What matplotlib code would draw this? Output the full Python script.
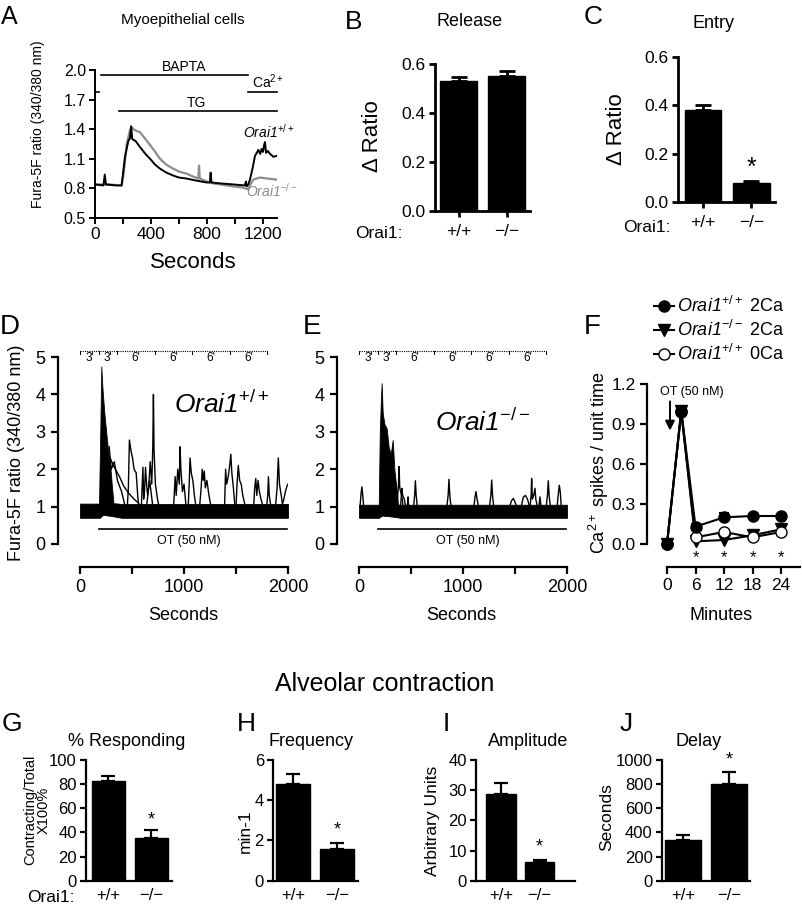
import matplotlib
matplotlib.use('Agg')
import matplotlib.pyplot as plt

plt.rcParams['font.family'] = ['Liberation Sans', 'DejaVu Sans']
plt.rcParams['mathtext.fontset'] = 'custom'
plt.rcParams['mathtext.rm'] = 'Liberation Sans'
plt.rcParams['mathtext.it'] = 'Liberation Sans:italic'
plt.rcParams['mathtext.sf'] = 'Liberation Sans:italic'
plt.rcParams['mathtext.bf'] = 'Liberation Sans:bold'

W, H = 802, 905

# ---- A: myoepithelial cell traces
a_wt_t = [0, 60, 70, 78, 150, 190, 214, 238, 250, 258, 266, 290, 321, 360, 393, 430, 464, 510, 559, 600,
          654, 720, 797, 820, 826, 832, 900, 988, 1070, 1078, 1083, 1095, 1107, 1125, 1143, 1167, 1180, 1190,
          1200, 1208, 1214, 1222, 1235, 1250, 1275, 1297]
a_wt_v = [0.84, 0.83, 0.94, 0.84, 0.83, 0.83, 1.12, 1.28, 1.31, 1.43, 1.30, 1.28, 1.22, 1.15, 1.10, 1.04, 1.00,
          0.96, 0.93, 0.91, 0.90, 0.88, 0.86, 0.86, 0.96, 0.86, 0.85, 0.84, 0.83, 0.87, 0.82, 0.84, 0.89, 1.00,
          1.13, 1.19, 1.15, 1.20, 1.17, 1.24, 1.27, 1.16, 1.18, 1.15, 1.12, 1.13]
a_ko_t = [0, 100, 190, 205, 226, 240, 250, 262, 275, 300, 321, 360, 393, 430, 464, 510, 559, 600, 654, 700,
          738, 743, 748, 800, 845, 900, 988, 1050, 1095, 1110, 1131, 1178, 1230, 1297]
a_ko_v = [0.84, 0.84, 0.83, 0.95, 1.24, 1.33, 1.39, 1.42, 1.40, 1.38, 1.37, 1.30, 1.24, 1.17, 1.10, 1.04, 1.00,
          0.97, 0.95, 0.92, 0.90, 1.03, 0.90, 0.87, 0.85, 0.84, 0.82, 0.81, 0.79, 0.84, 0.89, 0.91, 0.90, 0.89]
bapta = (40, 1090, 1.95)
ca_pre = (0, 30, 1.78)
ca_post = (1090, 1300, 1.78)
tg = (170, 1300, 1.58)

# ---- B, C
genotypes = ['+/+', '\u2212/\u2212']
release = [0.53, 0.553]
release_err = [0.015, 0.018]
entry = [0.38, 0.077]
entry_err = [0.022, 0.008]

# ---- D, E: OT-evoked traces
seg_edges = [0, 180, 360, 720, 1080, 1440, 1800]
seg_labels = ["3'", "3'", "6'", "6'", "6'", "6'"]
ot_span = (180, 1990)

d_band_t = [0, 190, 220, 300, 400, 2000]
d_band_lo = [0.70, 0.70, 0.78, 0.75, 0.70, 0.70]
d_band_hi = [1.08, 1.08, 1.12, 1.10, 1.07, 1.07]
d_burst_t = [183, 195, 205, 215, 234, 256, 272, 288, 305, 320]
d_burst_v = [1.1, 3.0, 4.75, 4.2, 3.5, 2.87, 2.43, 2.2, 1.6, 1.15]
d_tr_t = [[290, 320, 350, 380, 420, 470, 520, 560, 580],
          [280, 300, 330, 360, 400, 430],
          [455, 465, 475, 490, 505, 520, 540, 555, 565],
          [640, 660, 675, 690, 700, 706, 712, 725, 745, 760],
          [590, 605, 612, 620, 630, 640, 650, 670, 700],
          [900, 915, 925, 940, 955, 962, 970, 985, 1000, 1020],
          [1040, 1050, 1058, 1070, 1085, 1100, 1115],
          [1150, 1165, 1175, 1185, 1195, 1205, 1220, 1240, 1260],
          [1390, 1400, 1410, 1425, 1440, 1450, 1460, 1475, 1490],
          [1500, 1510, 1522, 1535, 1550, 1565, 1590],
          [1670, 1680, 1690, 1700, 1712, 1725, 1740, 1760],
          [1795, 1805, 1812, 1820, 1835],
          [1880, 1895, 1907, 1918, 1935, 1950],
          [1940, 1960, 1975, 1990, 2000]]
d_tr_v = [[2.3, 2.1, 1.95, 1.8, 1.55, 1.35, 1.2, 1.1, 1.0],
          [2.6, 2.0, 2.2, 1.7, 1.4, 1.05],
          [1.0, 1.5, 2.78, 2.5, 2.3, 2.0, 1.9, 1.3, 1.0],
          [1.0, 1.5, 2.2, 1.6, 2.6, 4.0, 2.5, 1.6, 1.2, 1.0],
          [1.0, 2.05, 1.2, 1.4, 2.05, 1.6, 1.3, 1.7, 1.0],
          [1.0, 1.8, 1.3, 2.0, 1.6, 2.6, 2.0, 1.4, 1.6, 1.0],
          [1.0, 1.6, 2.3, 1.9, 1.7, 1.3, 1.0],
          [1.0, 1.5, 2.0, 1.7, 1.95, 1.5, 1.7, 1.3, 1.0],
          [1.0, 2.0, 1.6, 1.8, 2.1, 2.4, 1.9, 1.5, 1.0],
          [1.0, 1.6, 2.1, 1.7, 1.6, 1.3, 1.0],
          [1.0, 1.5, 1.75, 1.3, 1.7, 1.4, 1.2, 1.0],
          [1.0, 1.3, 1.8, 1.3, 1.0],
          [1.0, 1.5, 2.3, 1.6, 1.3, 1.0],
          [1.0, 1.2, 1.4, 1.55, 1.6]]

e_band_t = [0, 190, 220, 300, 400, 2000]
e_band_lo = [0.70, 0.70, 0.76, 0.74, 0.70, 0.70]
e_band_hi = [1.05, 1.05, 1.10, 1.08, 1.05, 1.05]
e_burst_t = [190, 200, 210, 218, 228, 245, 266, 285, 305, 324, 340, 360, 375]
e_burst_v = [1.05, 3.0, 3.8, 4.3, 3.5, 3.2, 3.09, 2.6, 2.4, 2.78, 2.0, 1.5, 1.05]
e_tr_t = [[10, 20, 28, 36, 45],
          [370, 380, 385, 392, 400, 410, 425],
          [400, 412, 420, 435, 450],
          [465, 472, 476, 482],
          [525, 535, 542, 550, 560],
          [845, 857, 865, 873, 885],
          [1105, 1115, 1125, 1135, 1150],
          [1255, 1268, 1276, 1284, 1295],
          [1450, 1465, 1484, 1500, 1515],
          [1560, 1580, 1600, 1620, 1640],
          [1645, 1655, 1660, 1667, 1680, 1692, 1700, 1715],
          [1730, 1740, 1750],
          [1800, 1812, 1820, 1828, 1840],
          [1905, 1915, 1926, 1935, 1945]]
e_tr_v = [[1.0, 1.35, 1.53, 1.3, 1.0],
          [1.2, 1.6, 2.07, 1.5, 1.4, 1.3, 1.0],
          [1.0, 1.49, 1.3, 1.2, 1.0],
          [1.0, 1.26, 1.05, 1.0],
          [1.0, 1.3, 1.69, 1.3, 1.0],
          [1.0, 1.3, 1.73, 1.3, 1.0],
          [1.0, 1.25, 1.4, 1.2, 1.0],
          [1.0, 1.3, 1.71, 1.3, 1.0],
          [1.0, 1.15, 1.22, 1.12, 1.0],
          [1.0, 1.25, 1.3, 1.2, 1.0],
          [1.0, 1.3, 1.75, 1.2, 1.3, 1.49, 1.2, 1.0],
          [1.0, 1.26, 1.0],
          [1.0, 1.3, 1.69, 1.3, 1.0],
          [1.0, 1.3, 1.57, 1.4, 1.0]]

# ---- F: spike frequency
minutes = [0, 3, 6, 12, 18, 24]
wt_2ca = [0.0, 1.0, 0.13, 0.20, 0.21, 0.21]
wt_2ca_err = [0.0, 0.02, 0.02, 0.03, 0.01, 0.01]
ko_2ca = [0.0, 1.0, 0.02, 0.03, 0.065, 0.11]
wt_0ca = [0.0, 0.99, 0.05, 0.09, 0.05, 0.09]
sig_minutes = [6, 12, 18, 24]

# ---- G-J: alveolar contraction
responding = [82.5, 35]
responding_err = [4.5, 7]
frequency = [4.82, 1.56]
frequency_err = [0.5, 0.33]
amplitude = [28.6, 6.1]
amplitude_err = [3.9, 0.9]
delay = [337, 800]
delay_err = [45, 100]

WT = r'$\mathsf{Orai1}^{+/+}$'
KO = r'$\mathsf{Orai1}^{-/-}$'


def box(x0, y0, x1, y1):
    return [x0 / W, 1 - y1 / H, (x1 - x0) / W, (y1 - y0) / H]


def ftext(x, y, s, **kw):
    fig.text(x / W, 1 - y / H, s, ha=kw.pop('ha', 'center'), va=kw.pop('va', 'center'), **kw)


def style(ax, lw=1.5, fs=12):
    for s in ['top', 'right']:
        ax.spines[s].set_visible(False)
    for s in ['left', 'bottom']:
        ax.spines[s].set_linewidth(lw)
    ax.tick_params(direction='out', length=4.5, width=lw, labelsize=fs, pad=2)


fig = plt.figure(figsize=(W / 100, H / 100), dpi=100)

# A
ax = fig.add_axes(box(95, 70, 277, 218))
style(ax, 1.4, 11.5)
ax.plot(a_ko_t, a_ko_v, color='#8c8c8c', lw=1.6)
ax.plot(a_wt_t, a_wt_v, color='black', lw=1.4)
for x0, x1, y in [bapta, ca_pre, ca_post, tg]:
    ax.plot([x0, x1], [y, y], color='black', lw=1.2, clip_on=False)
ax.text(640, 2.03, 'BAPTA', ha='center', va='center', fontsize=10)
ax.text(1237, 1.88, 'Ca$^{2+}$', ha='center', va='center', fontsize=10)
ax.text(727, 1.67, 'TG', ha='center', va='center', fontsize=10)
ax.text(1242, 1.37, WT, ha='center', va='center', fontsize=10)
ax.text(1264, 0.78, KO, ha='center', va='center', fontsize=10, color='#8c8c8c')
ax.set_xlim(0, 1300)
ax.set_ylim(0.5, 2.0)
ax.set_xticks([0, 200, 400, 600, 800, 1000, 1200])
ax.set_xticklabels(['0', '', '400', '', '800', '', '1200'])
ax.set_yticks([0.5, 0.8, 1.1, 1.4, 1.7, 2.0])
ax.tick_params(axis='x', labelsize=12.5)
ftext(38, 124, 'Fura-5F ratio (340/380 nm)', rotation=90, fontsize=10)
ftext(193, 263, 'Seconds', fontsize=16)
ftext(183, 20, 'Myoepithelial cells', fontsize=11)
ftext(9, 17, 'A', fontsize=18)


def bar_panel(rect, vals, errs, xlim, ylim, yticks, width, tick_fs, ticks=True, lw=1.8, cap=6):
    ax = fig.add_axes(box(*rect))
    style(ax, lw, tick_fs)
    ax.bar([0, 1], vals, width=width, color='black', edgecolor='black')
    ax.errorbar([0, 1], vals, yerr=[[0, 0], errs], fmt='none', ecolor='black',
                elinewidth=lw, capsize=cap, capthick=lw)
    ax.set_xlim(*xlim)
    ax.set_ylim(*ylim)
    ax.set_yticks(yticks)
    ax.set_xticks([0, 1])
    ax.set_xticklabels(genotypes)
    if not ticks:
        ax.tick_params(axis='x', length=0, pad=5)
    else:
        ax.tick_params(axis='x', pad=5)
    return ax


# B
ax = bar_panel((435, 64, 530, 211), release, release_err, (-0.5, 1.49), (0, 0.6),
               [0, 0.2, 0.4, 0.6], 0.77, 12.5, lw=2)
ax.set_yticklabels(['0.0', '0.2', '0.4', '0.6'])
ftext(372, 136, '\u0394 Ratio', rotation=90, fontsize=16)
ftext(379, 233, 'Orai1:', fontsize=12.5)
ftext(470, 21, 'Release', fontsize=13)
ftext(354, 22, 'B', fontsize=19)

# C
ax = bar_panel((678, 57, 775, 202), entry, entry_err, (-0.52, 1.49), (0, 0.6),
               [0, 0.2, 0.4, 0.6], 0.76, 12.5, lw=2)
ax.set_yticklabels(['0.0', '0.2', '0.4', '0.6'])
ax.text(1, 0.14, '*', ha='center', va='center', fontsize=18)
ftext(617, 129, '\u0394 Ratio', rotation=90, fontsize=16)
ftext(647, 227, 'Orai1:', fontsize=12.5)
ftext(713, 23, 'Entry', fontsize=13)
ftext(593, 17, 'C', fontsize=19)


def trace_panel(rect, band_t, lo, hi, burst_t, burst_v, tr_t, tr_v, label, lab_xy):
    ax = fig.add_axes(box(*rect))
    style(ax, 1.6, 13)
    ax.spines['left'].set_position(('outward', 16))
    ax.spines['bottom'].set_position(('outward', 16.5))
    ax.fill_between(band_t, lo, hi, color='black', lw=0.6)
    ax.fill_between(burst_t, 1.0, burst_v, color='black', lw=0.6)
    for t, v in zip(tr_t, tr_v):
        ax.plot(t, v, color='black', lw=1.0)
    ax.plot(ot_span, [0.4, 0.4], color='black', lw=1.2)
    ax.text(1050, 0.07, 'OT (50 nM)', ha='center', va='center', fontsize=9)
    # dotted time bracket
    ax.plot([seg_edges[0], seg_edges[-1]], [5.17, 5.17], color='black', lw=0.8, ls=(0, (1, 1)), clip_on=False)
    for e in seg_edges:
        ax.plot([e, e], [5.17, 5.08], color='black', lw=0.7, clip_on=False)
    for a, b, s in zip(seg_edges[:-1], seg_edges[1:], seg_labels):
        ax.text((a + b) / 2, 4.98, s, ha='center', va='center', fontsize=8.5)
    ax.text(lab_xy[0], lab_xy[1], label, ha='center', va='center', fontsize=19)
    ax.set_xlim(0, 2000)
    ax.set_ylim(0, 5)
    ax.spines['left'].set_bounds(0, 5)
    ax.set_xticks([0, 500, 1000, 1500, 2000])
    ax.set_xticklabels(['0', '', '1000', '', '2000'])
    ax.set_yticks([0, 1, 2, 3, 4, 5])
    ax.tick_params(length=5, pad=4)
    return ax


# D
trace_panel((80, 357, 288, 544), d_band_t, d_band_lo, d_band_hi, d_burst_t, d_burst_v,
            d_tr_t, d_tr_v, WT, (1362, 3.72))
ftext(17, 453, 'Fura-5F ratio (340/380 nm)', rotation=90, fontsize=13)
ftext(183, 616, 'Seconds', fontsize=13)
ftext(10, 327, 'D', fontsize=20)

# E
trace_panel((359, 357, 567, 544), e_band_t, e_band_lo, e_band_hi, e_burst_t, e_burst_v,
            e_tr_t, e_tr_v, KO, (1195, 3.25))
ftext(461, 616, 'Seconds', fontsize=13)
ftext(312, 327, 'E', fontsize=20)

# F
ax = fig.add_axes(box(667, 384, 800, 544))
style(ax, 1.6, 12.5)
ax.spines['left'].set_position(('outward', 14.5))
ax.spines['bottom'].set_position(('outward', 16.5))
h1, = ax.plot(minutes, wt_2ca, color='black', marker='o', ms=8, lw=1.5, clip_on=False, zorder=4,
              label=WT + ' 2Ca')
ax.errorbar(minutes, wt_2ca, yerr=[[0] * 6, wt_2ca_err], fmt='none', ecolor='black',
            elinewidth=1.5, capsize=3.5, capthick=1.5, zorder=3)
h2, = ax.plot(minutes, ko_2ca, color='black', marker='v', ms=8, lw=1.5, clip_on=False, zorder=3,
              label=KO + ' 2Ca')
h3, = ax.plot(minutes, wt_0ca, color='black', marker='o', ms=8, mfc='white', lw=1.5, clip_on=False,
              zorder=3.5, label=WT + ' 0Ca')
for m in sig_minutes:
    ax.text(m, -0.1, '*', ha='center', va='center', fontsize=12)
ax.annotate('', xy=(0.63, 0.83), xytext=(0.63, 1.09),
            arrowprops=dict(arrowstyle='-|>', color='black', lw=1.4, mutation_scale=14))
ax.text(5.2, 1.14, 'OT (50 nM)', ha='center', va='center', fontsize=9)
ax.set_xlim(0, 28)
ax.set_ylim(0, 1.2)
ax.spines['bottom'].set_bounds(0, 28)
ax.set_xticks(minutes[:1] + minutes[2:])
ax.set_yticks([0, 0.3, 0.6, 0.9, 1.2])
ax.set_yticklabels(['0.0', '0.3', '0.6', '0.9', '1.2'])
ax.tick_params(length=5, pad=3)
ax.legend(handles=[h1, h2, h3], loc='upper left', bbox_to_anchor=(654 / W, 1 - 296 / H),
          bbox_transform=fig.transFigure, frameon=False, fontsize=13, handlelength=1.1,
          handletextpad=0.15, labelspacing=0.22, borderpad=0, borderaxespad=0, numpoints=1)
ftext(599, 463, r'Ca$^{2+}$ spikes / unit time', rotation=90, fontsize=13)
ftext(721, 616, 'Minutes', fontsize=13)
ftext(592, 327, 'F', fontsize=20)

# G-J
ftext(385, 684, 'Alveolar contraction', fontsize=18)

ax = bar_panel((86, 760, 171.7, 880.7), responding, responding_err, (-0.52, 1.47), (0, 100),
               [0, 20, 40, 60, 80, 100], 0.78, 12, ticks=False, lw=1.6, cap=5)
ax.text(1, 50, '*', ha='center', va='center', fontsize=13)
ftext(37, 810, 'Contracting/Total\nX100%', rotation=90, fontsize=10.5, linespacing=0.9)
ftext(51, 897, 'Orai1:', fontsize=12.5)
ftext(127, 741, '% Responding', fontsize=13)
ftext(12, 724, 'G', fontsize=19)

ax = bar_panel((273, 760, 358, 880.7), frequency, frequency_err, (-0.47, 1.48), (0, 6),
               [0, 2, 4, 6], 0.78, 12, ticks=False, lw=1.6, cap=5)
ax.text(1, 2.5, '*', ha='center', va='center', fontsize=13)
ftext(245, 831, 'min-1', rotation=90, fontsize=12.5)
ftext(311, 741, 'Frequency', fontsize=13)
ftext(246, 724, 'H', fontsize=19)

ax = bar_panel((476, 760, 575, 880.7), amplitude, amplitude_err, (-0.65, 1.92), (0, 40),
               [0, 10, 20, 30, 40], 0.76, 12, ticks=False, lw=1.6, cap=5)
ax.text(1, 11.2, '*', ha='center', va='center', fontsize=13)
ftext(433, 821, 'Arbitrary Units', rotation=90, fontsize=12.5)
ftext(528, 741, 'Amplitude', fontsize=13)
ftext(446, 724, 'I', fontsize=19)

ax = bar_panel((661.7, 760, 750, 880.7), delay, delay_err, (-0.47, 1.45), (0, 1000),
               [0, 200, 400, 600, 800, 1000], 0.78, 12, ticks=False, lw=1.6, cap=5)
ax.text(1, 1000, '*', ha='center', va='center', fontsize=13)
ftext(607, 817, 'Seconds', rotation=90, fontsize=12.5)
ftext(699, 741, 'Delay', fontsize=13)
ftext(626, 724, 'J', fontsize=19)

fig.savefig('out.png', dpi=100)
